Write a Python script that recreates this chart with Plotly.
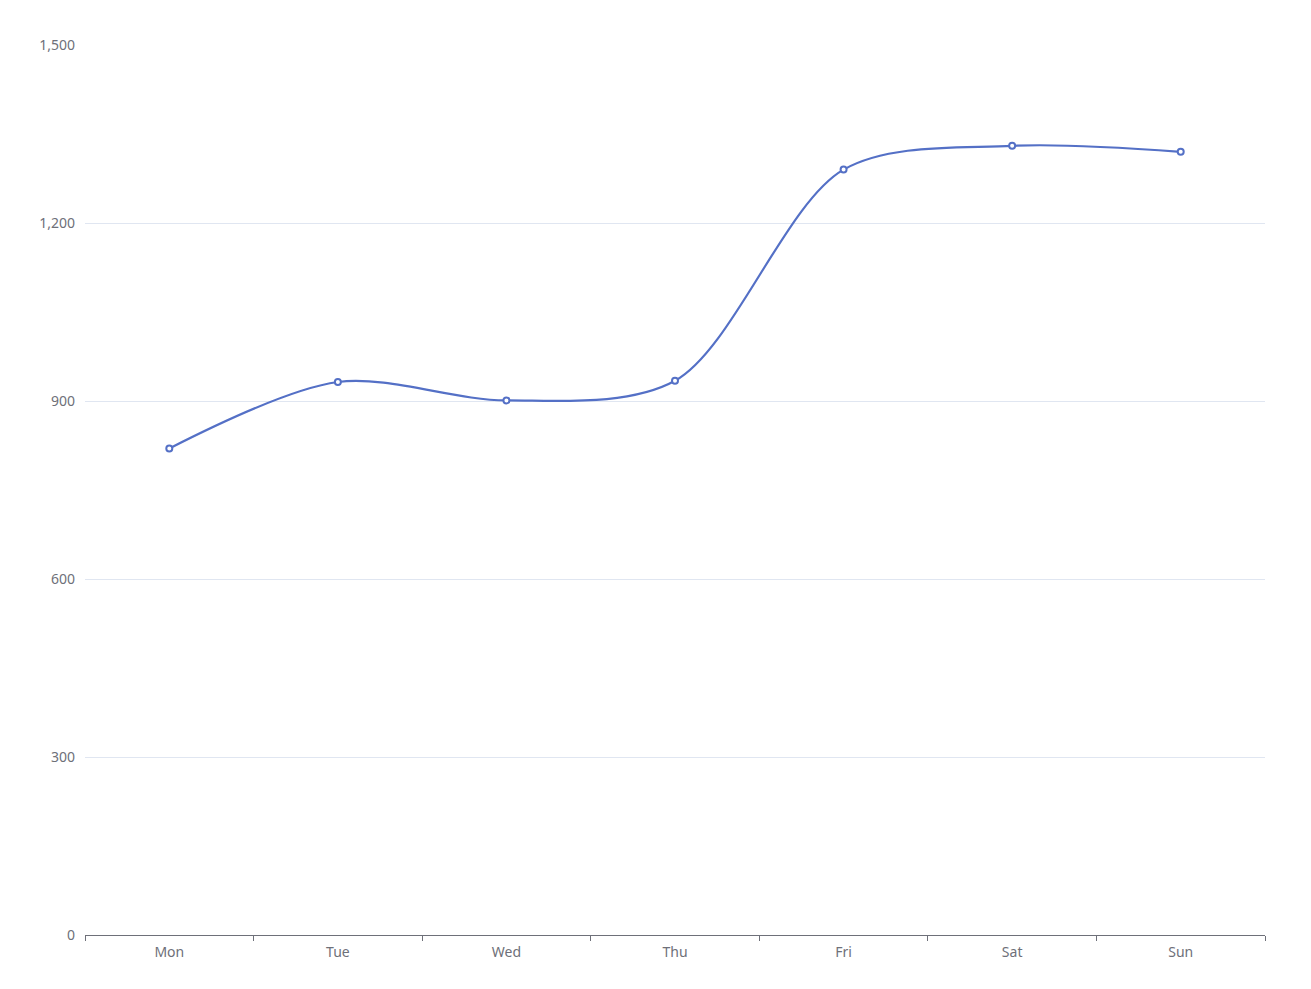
import plotly.graph_objects as go

days = ["Mon", "Tue", "Wed", "Thu", "Fri", "Sat", "Sun"]
values = [820, 932, 901, 934, 1290, 1330, 1320]
y_ticks = [0, 300, 600, 900, 1200, 1500]

fig = go.Figure()
fig.add_trace(go.Scatter(
    x=days, y=values, mode="lines+markers",
    line=dict(color="#5470C6", width=2.2, shape="spline", smoothing=0.9),
    marker=dict(symbol="circle", size=6, color="white",
                line=dict(color="#5470C6", width=2)),
    showlegend=False,
))

fig.update_layout(
    width=1311, height=989,
    margin=dict(l=77, r=54, t=37, b=62),
    paper_bgcolor="white", plot_bgcolor="white",
    font=dict(family="Noto Sans, DejaVu Sans, sans-serif", size=14, color="#6E7079"),
)
fig.update_xaxes(
    type="category", range=[-0.5, 6.5],
    showline=True, linecolor="#6E7079", linewidth=1,
    ticks="outside", tickson="boundaries", ticklen=5, tickcolor="#6E7079",
    ticklabelstandoff=4,
    showgrid=False, tickfont=dict(size=14, color="#6E7079"),
)
fig.update_yaxes(
    range=[0, 1500], tickvals=y_ticks, tickformat=",",
    showgrid=True, gridcolor="#E0E6F1", gridwidth=1,
    showline=False, zeroline=False, ticks="",
    ticklabelstandoff=9, tickfont=dict(size=14, color="#6E7079"),
)

fig.write_html("out.html")
